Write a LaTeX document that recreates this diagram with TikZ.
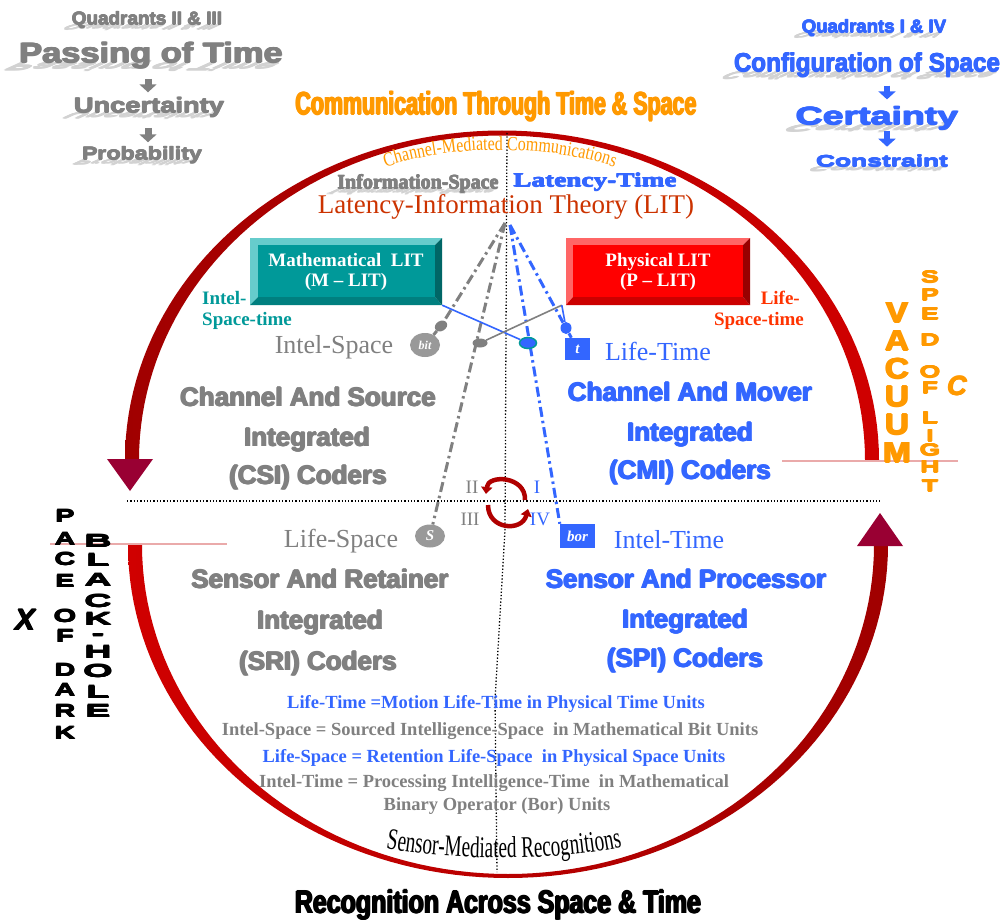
\documentclass[tikz,border=0pt]{standalone}
\usepackage{fontspec}
\usepackage{graphicx}
\usetikzlibrary{shapes.geometric,arrows.meta,decorations.text}
\setmainfont{Liberation Serif}
\setsansfont{Liberation Sans}
\newfontfamily\blacksans{Liberation Sans Bold}
\newfontfamily\blacksansit{Liberation Sans Bold Italic}
\newfontfamily\blackserif{Liberation Serif Bold}
\newfontfamily\condserif{Liberation Serif}[FakeStretch=0.8]
\newfontfamily\narrowserif{Liberation Serif}[FakeStretch=0.64]
\newcommand\fsz[1]{\fontsize{#1}{#1}\selectfont}
% thicken strokes by overprinting the text four times around its own position
\newcommand\heavier[2]{\leavevmode\rlap{\kern#1\relax#2}\rlap{\kern-#1\relax#2}%
  \rlap{\raisebox{#1}{#2}}\rlap{\raisebox{-#1}{#2}}#2}
\pgfdeclarelayer{back}
\pgfsetlayers{back,main}

\definecolor{txtgray}{HTML}{808080}
\definecolor{badgegray}{HTML}{999999}
\definecolor{txtblue}{HTML}{3366FF}
\definecolor{titleorange}{HTML}{FF9900}
\definecolor{litred}{HTML}{CC3300}
\definecolor{tealmain}{HTML}{009999}
\definecolor{teallight}{HTML}{66CCCC}
\definecolor{tealmid}{HTML}{007F7F}
\definecolor{tealdark}{HTML}{006666}
\definecolor{redmain}{HTML}{FF0000}
\definecolor{redlight}{HTML}{FF6666}
\definecolor{redmid}{HTML}{CC0000}
\definecolor{reddark}{HTML}{990000}
\definecolor{lifered}{HTML}{FF3300}
\definecolor{ringdark}{HTML}{A00000}
\definecolor{ringbright}{HTML}{D00000}
\definecolor{ringtip}{HTML}{990033}
\definecolor{spinred}{HTML}{B00000}
\definecolor{shadowgray}{HTML}{D2D2D2}
\definecolor{axispink}{HTML}{EAAAAA}

% a text with a faint cast shadow falling to the lower left
\newcommand\shadowed[5]{%
  \begin{scope}[shift={#2}, xslant=2.2, yscale=-0.4]
    \node[inner sep=0pt, anchor=base, transform shape, text=shadowgray, font=#3] (#1-shadow) at (0,0) {#5};
  \end{scope}
  \node[inner sep=0pt, anchor=base, text=#4, font=#3] (#1) at #2 {#5};}

\begin{document}
\begin{tikzpicture}[x=1pt, y=-1pt,
  lbl/.style={inner sep=0pt, anchor=base},
  quadtxt/.style={lbl, font=\blacksans\fsz{26}},
  deftxt/.style={lbl, font=\bfseries\fsz{18.5}},
  stackltr/.style={inner sep=0pt, anchor=center},
  dashdot/.style={line width=3pt, dash pattern=on 10pt off 4pt on 2.5pt off 4pt},
  pointer/.style={line width=7pt, -{Triangle[length=8pt,width=17pt]}},
  bevelbox/.style={minimum width=192pt, minimum height=67pt, inner sep=0pt, text=white,
    font=\bfseries\fsz{19}, align=center},
  badge/.style={inner sep=0pt, text=white, font=\bfseries\itshape\fsz{14}},
  spin/.style={spinred, line width=4.5pt, -{Triangle[length=7pt,width=11pt]}}
]
\useasboundingbox (0,0) rectangle (1006,920);

% ---------- headings, top left ----------
\shadowed{qtl}{(147,25)}{\blacksans\fsz{18}}{txtgray}{\heavier{0.5pt}{\scalebox{1.05}[1]{Quadrants II \& III}}}
\shadowed{pot}{(151,63)}{\blacksans\fsz{28}}{txtgray}{\heavier{0.8pt}{\scalebox{1.23}[1]{Passing of Time}}}
\shadowed{unc}{(149,113)}{\blacksans\fsz{21}}{txtgray}{\heavier{0.6pt}{\scalebox{1.3}[1]{Uncertainty}}}
\shadowed{prob}{(142,160)}{\blacksans\fsz{18}}{txtgray}{\heavier{0.5pt}{\scalebox{1.29}[1]{Probability}}}
\draw[pointer, txtgray, shorten <=9pt, shorten >=4.7pt]
  ([xshift=-1pt]unc.north |- pot.south) -- ([xshift=-1pt]unc.north);
\draw[pointer, txtgray, shorten <=9.6pt, shorten >=4pt]
  ([xshift=-1pt]unc.south) -- ([xshift=6pt]prob.north);

% ---------- headings, top right ----------
\shadowed{qtr}{(874,33)}{\blacksans\fsz{18}}{txtblue}{\heavier{0.5pt}{\scalebox{1.03}[1]{Quadrants I \& IV}}}
\shadowed{cfg}{(867,72)}{\blacksans\fsz{26}}{txtblue}{\heavier{0.5pt}{\scalebox{0.93}[1]{Configuration of Space}}}
\shadowed{cert}{(877,125)}{\blacksans\fsz{25}}{txtblue}{\heavier{0.8pt}{\scalebox{1.5}[1]{Certainty}}}
\shadowed{cons}{(882,167)}{\blacksans\fsz{16}}{txtblue}{\heavier{0.5pt}{\scalebox{1.65}[1]{Constraint}}}
\draw[pointer, txtblue, line width=6pt, shorten <=7.5pt, shorten >=6.5pt]
  ([xshift=10pt]cert.north |- cfg.south) -- ([xshift=10pt]cert.north);
\draw[pointer, txtblue, line width=6pt, shorten <=0pt, shorten >=8pt]
  ([xshift=10pt]cert.south) -- ([xshift=5pt]cons.north);

% ---------- titles ----------
\node[lbl, text=titleorange, font=\blacksans\fsz{32}] (toptitle) at (496,115)
  {\heavier{0.8pt}{\scalebox{0.67}[1]{Communication Through Time \& Space}}};
\node[lbl, text=black, font=\blacksans\fsz{32}] (bottitle) at (498,913)
  {\heavier{0.9pt}{\scalebox{0.78}[1]{Recognition Across Space \& Time}}};

\path[decorate, decoration={text along path, text align=center,
  text={|\condserif\fsz{20}\color{titleorange}|Channel-Mediated Communications}}]
  (368,174) .. controls (440,142) and (560,142) .. (632,174);
\path[decorate, decoration={text along path, text align=center,
  text={|\narrowserif\fsz{30}\color{black}|Sensor-Mediated Recognitions}}]
  (372,846) .. controls (450,862) and (560,862) .. (636,844);

\shadowed{infospace}{(418,189)}{\blackserif\fsz{20}}{txtgray}{\heavier{0.45pt}{Information-Space}}
\node[lbl, text=txtblue, font=\blackserif\fsz{19.5}] (latencytime) at (595,187)
  {\heavier{0.45pt}{\scalebox{1.4}[1]{Latency-Time}}};
\node[lbl, text=litred, font=\fsz{27}] (lit) at (506,213) {Latency-Information Theory (LIT)};

% ---------- bevelled boxes ----------
\fill[teallight] (250,238) -- (442,238) -- (435,245) -- (258,245) -- (258,297) -- (250,305) -- cycle;
\fill[tealmid] (250,305) -- (442,305) -- (435,297) -- (258,297) -- cycle;
\fill[tealdark] (442,238) -- (442,305) -- (435,297) -- (435,245) -- cycle;
\fill[tealmain] (258,245) rectangle (435,297);
\node[bevelbox] (mlit) at (346,271.5) {Mathematical\ \ LIT\\[1pt](M – LIT)};

\fill[redlight] (566,238) -- (750,238) -- (743,245) -- (573,245) -- (573,297) -- (566,305) -- cycle;
\fill[redmid] (566,305) -- (750,305) -- (743,297) -- (573,297) -- cycle;
\fill[reddark] (750,238) -- (750,305) -- (743,297) -- (743,245) -- cycle;
\fill[redmain] (573,245) rectangle (743,297);
\node[bevelbox] (plit) at (658,271.5) {Physical LIT\\[1pt](P – LIT)};

\node[lbl, anchor=base west, text=tealmain, font=\bfseries\fsz{19}] (ist1) at (202,304) {Intel-};
\node[lbl, anchor=base west, text=tealmain, font=\bfseries\fsz{19}] (ist2) at (202,325) {Space-time};
\node[lbl, anchor=base east, text=lifered, font=\bfseries\fsz{19}] (lst1) at (800,304) {Life-};
\node[lbl, anchor=base east, text=lifered, font=\bfseries\fsz{19}] (lst2) at (804,325) {Space-time};

% ---------- markers ----------
\node[ellipse, fill=badgegray, minimum width=30pt, minimum height=24pt, badge, font=\bfseries\itshape\fsz{12}] (bit) at (425,345) {bit};
\node[ellipse, fill=badgegray, minimum width=30pt, minimum height=23pt, badge, font=\bfseries\itshape\fsz{15}] (sbadge) at (430,536) {S};
\node[rectangle, fill=txtblue, minimum width=25pt, minimum height=22pt, badge, font=\bfseries\itshape\fsz{15}] (tbox) at (577.5,349) {t};
\node[rectangle, fill=txtblue, minimum width=35pt, minimum height=24pt, badge, font=\bfseries\itshape\fsz{15}] (bor) at (577.5,536) {bor};

\node[ellipse, fill=txtgray, minimum width=13pt, minimum height=10pt, inner sep=0pt, rotate=30] (gpin) at (441,326) {};
\node[ellipse, fill=txtblue, minimum width=11pt, minimum height=12pt, inner sep=0pt] (bpin) at (566,328) {};
\node[ellipse, fill=txtgray, minimum width=15pt, minimum height=9pt, inner sep=0pt] (gdot) at (480,343) {};
\node[ellipse, fill=txtblue, draw=tealmain, line width=1.5pt, minimum width=17pt, minimum height=11pt, inner sep=0pt] (bdot) at (528,343) {};

\coordinate (apexg) at (505,223);
\coordinate (apexb) at (510,225);

% ---------- quadrant labels ----------
\node[lbl, text=txtgray, font=\fsz{26}] (intelspace) at (334,353) {Intel-Space};
\node[lbl, text=txtblue, font=\fsz{26}] (lifetime) at (658,360) {Life-Time};
\node[lbl, text=txtgray, font=\fsz{26}] (lifespace) at (341,547) {Life-Space};
\node[lbl, text=txtblue, font=\fsz{26}] (inteltime) at (669,548) {Intel-Time};

\node[quadtxt, text=txtgray] (csi1) at (308,406) {\heavier{0.8pt}{Channel And Source}};
\node[quadtxt, text=txtgray] (csi2) at (307,446) {\heavier{0.8pt}{Integrated}};
\node[quadtxt, text=txtgray] (csi3) at (308,484) {\heavier{0.8pt}{(CSI) Coders}};
\node[quadtxt, text=txtblue] (cmi1) at (690,401) {\heavier{0.8pt}{Channel And Mover}};
\node[quadtxt, text=txtblue] (cmi2) at (690,441) {\heavier{0.8pt}{Integrated}};
\node[quadtxt, text=txtblue] (cmi3) at (690,479) {\heavier{0.8pt}{(CMI) Coders}};
\node[quadtxt, text=txtgray] (sri1) at (320,588) {\heavier{0.8pt}{Sensor And Retainer}};
\node[quadtxt, text=txtgray] (sri2) at (320,629) {\heavier{0.8pt}{Integrated}};
\node[quadtxt, text=txtgray] (sri3) at (318,670) {\heavier{0.8pt}{(SRI) Coders}};
\node[quadtxt, text=txtblue] (spi1) at (686,588) {\heavier{0.8pt}{Sensor And Processor}};
\node[quadtxt, text=txtblue] (spi2) at (685,628) {\heavier{0.8pt}{Integrated}};
\node[quadtxt, text=txtblue] (spi3) at (685,667) {\heavier{0.8pt}{(SPI) Coders}};

\node[lbl, text=txtgray, font=\fsz{19}] (q2) at (472,493) {II};
\node[lbl, text=txtblue, font=\fsz{19}] (q1) at (537,493) {I};
\node[lbl, text=txtgray, font=\fsz{19}] (q3) at (470,525) {III};
\node[lbl, text=txtblue, font=\fsz{19}] (q4) at (540,525) {IV};

% ---------- unit definitions ----------
\node[deftxt, text=txtblue] (def1) at (496,708) {Life-Time =Motion Life-Time in Physical Time Units};
\node[deftxt, text=txtgray] (def2) at (490,735) {Intel-Space = Sourced Intelligence-Space\ \ in Mathematical Bit Units};
\node[deftxt, text=txtblue] (def3) at (494,762) {Life-Space = Retention Life-Space\ \ in Physical Space Units};
\node[deftxt, text=txtgray] (def4) at (494,787) {Intel-Time = Processing Intelligence-Time\ \ in Mathematical};
\node[deftxt, text=txtgray] (def5) at (497,810) {Binary Operator (Bor) Units};

% ---------- vertical lettering ----------
\foreach \ch/\yy [count=\i] in {V/313,A/341,C/369,U/397,U/425,M/453}
  \node[stackltr, text=titleorange, font=\blacksans\fsz{29}] (vac\i) at (897,\yy) {\heavier{0.9pt}{\scalebox{1.15}[1]{\ch}}};
\foreach \ch/\yy [count=\i] in {S/277,P/295,E/314,D/340,O/372,F/388,L/418,I/436,G/450,H/467,T/486}
  \node[stackltr, text=titleorange, font=\blacksans\fsz{17}] (sol\i) at (930,\yy) {\heavier{0.6pt}{\scalebox{1.55}[1]{\ch}}};
\node[lbl, text=titleorange, font=\blacksansit\fsz{27}] (cee) at (957,395) {\heavier{0.6pt}{C}};

\foreach \ch/\yy [count=\i] in {P/516,A/539,C/559,E/581,O/616,F/636,D/670,A/690,R/711,K/733}
  \node[stackltr, text=black, font=\blacksans\fsz{18}] (pod\i) at (65,\yy) {\heavier{0.6pt}{\scalebox{1.6}[1]{\ch}}};
\foreach \ch/\yy [count=\i] in {B/541,L/560,A/580,C/601,K/619,-/637,H/652,O/671,L/692,E/711}
  \node[stackltr, text=black, font=\blacksans\fsz{18}] (bh\i) at (98,\yy) {\heavier{0.6pt}{\scalebox{2.1}[1]{\ch}}};
\node[lbl, text=black, font=\blacksansit\fsz{30}] (ex) at (25,630) {\heavier{0.6pt}{X}};

% ---------- rotation arrows at the centre ----------
\draw[spin] (525,500) .. controls (526,476) and (488,474) .. (486,494);
\draw[spin] (488,505) .. controls (488,530) and (522,532) .. (528,509);

% ---------- background: ring, axes, beams ----------
\begin{pgfonlayer}{back}
  \fill[white] (0,0) rectangle (1006,920);
  % upper half of the ring
  \shade[left color=ringdark, right color=ringbright]
    plot[domain=0:180, samples=91] ({502+377*cos(\x)}, {460-329.5*sin(\x)})
    -- plot[domain=180:0, samples=91] ({502+363*cos(\x)}, {460-324.5*sin(\x)}) -- cycle;
  \fill[ringtip] (107,459) -- (153,459) -- (130,491) -- cycle;
  % lower half of the ring
  \shade[left color=ringbright, right color=ringdark]
    plot[domain=180:360, samples=91] ({508+380*cos(\x)}, {545-333*sin(\x)})
    -- plot[domain=360:180, samples=91] ({508+366*cos(\x)}, {545-329*sin(\x)}) -- cycle;
  \fill[ringtip] (857,546) -- (903,546) -- (880,513) -- cycle;

  \draw[axispink, line width=1.2pt] (782,461) -- (958,461);
  \draw[axispink, line width=1.2pt] (50,544) -- (227,544);

  \draw[dotted, line width=1.3pt] (127,501) -- (880,501);
  \draw[dotted, line width=1.3pt] (507,133) -- (505,530) -- (495,700) -- (497,872);

  % beams from the apex
  \draw[dashdot, txtgray] (apexg) -- (gpin);
  \draw[dashdot, txtgray] (apexg) -- (sbadge);
  \draw[dashdot, txtblue] (apexb) -- (bpin);
  \draw[dashdot, txtblue] (apexb) -- (bor.north west);

  % links from the boxes
  \draw[txtblue, line width=1.6pt] (mlit.south east) -- (bdot);
  \draw[txtgray, line width=1.6pt] (plit.south west) -- (gdot);
  \draw[txtblue, line width=1.6pt] (plit.south west) -- (bpin);
  \draw[txtgray, line width=3pt] (gpin) -- (bit);
  \draw[txtblue, line width=3pt] (bpin) -- (tbox);
\end{pgfonlayer}
\end{tikzpicture}
\end{document}
